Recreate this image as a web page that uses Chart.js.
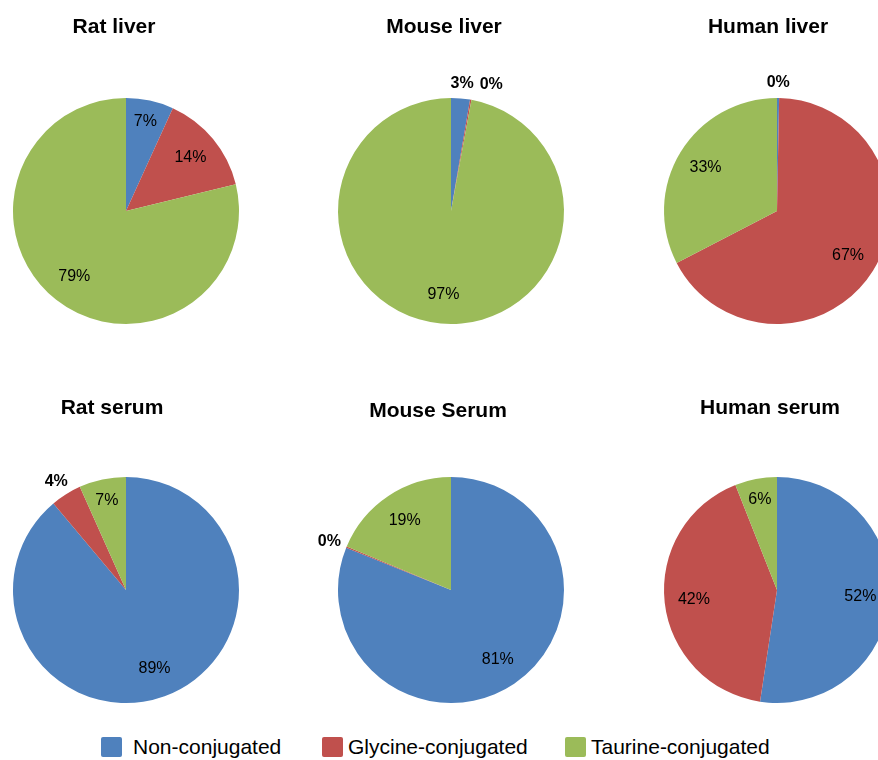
<!DOCTYPE html>
<html>
<head>
<meta charset="utf-8">
<script src="https://cdn.jsdelivr.net/npm/chart.js@4.4.1/dist/chart.umd.min.js"></script>
<style>
html,body{margin:0;padding:0;background:#ffffff;}
body{width:878px;height:760px;overflow:hidden;position:relative;}
canvas.pane{position:absolute;}
#legend{position:absolute;left:0;top:736px;width:878px;height:22px;font-family:"Liberation Sans",Arial,sans-serif;font-size:21px;color:#000;}
.li{position:absolute;top:0;height:22px;line-height:22px;white-space:nowrap;}
.sw{position:absolute;top:1px;width:21px;height:20px;border-radius:2px;}
</style>
</head>
<body>
<div id="legend"></div>
<script>
// ---- data ----
const categories = ['Non-conjugated', 'Glycine-conjugated', 'Taurine-conjugated'];
const panelTitles = ['Rat liver', 'Mouse liver', 'Human liver', 'Rat serum', 'Mouse Serum', 'Human serum'];
const ratLiver   = [6.8, 14.4, 78.8];
const mouseLiver = [2.7, 0.2, 97.1];
const humanLiver = [0.3, 67.1, 32.6];
const ratSerum   = [88.9, 4.4, 6.7];
const mouseSerum = [81.1, 0.2, 18.7];
const humanSerum = [52.4, 41.6, 6.0];
const seriesColors = ['#4F81BD', '#C0504D', '#9BBB59'];

// ---- layout ----
const panelData = [ratLiver, mouseLiver, humanLiver, ratSerum, mouseSerum, humanSerum];
const colCenters = [126, 451, 777];
const rowTops = [0, 379];
const titlePos = [[114, 27], [444, 27], [768, 27], [112, 408], [438, 411], [770, 408]];
const legendBoxX = [101, 322, 565];
const legendTextX = [133, 348, 591];
const PANE_W = 300, PANE_H = 350;
const FONT = '"Liberation Sans", Arial, sans-serif';

const panelTitlePlugin = {
  id: 'panelTitle',
  afterDraw(chart, args, opts) {
    const ctx = chart.ctx;
    ctx.save();
    ctx.font = 'bold 21px ' + FONT;
    ctx.fillStyle = '#000';
    ctx.textAlign = 'center';
    ctx.textBaseline = 'middle';
    ctx.fillText(opts.text, opts.x, opts.y);
    ctx.restore();
  }
};

const sliceLabelPlugin = {
  id: 'sliceLabels',
  afterDatasetsDraw(chart) {
    const ctx = chart.ctx;
    const meta = chart.getDatasetMeta(0);
    const data = chart.data.datasets[0].data;
    const total = data.reduce((a, b) => a + b, 0);
    let prev = null;
    ctx.save();
    ctx.fillStyle = '#000';
    ctx.textAlign = 'center';
    ctx.textBaseline = 'middle';
    meta.data.forEach((arc, i) => {
      const p = arc.getProps(['x', 'y', 'startAngle', 'endAngle', 'outerRadius'], true);
      const share = data[i] / total * 100;
      const pct = Math.round(share);
      const txt = pct + '%';
      const mid = (p.startAngle + p.endAngle) / 2;
      const c = Math.cos(mid), s = Math.sin(mid);
      if (share >= 5) {
        ctx.font = '16px ' + FONT;
        const f = share < 10 ? 0.81 : 0.74;
        ctx.fillText(txt, p.x + c * p.outerRadius * f, p.y + s * p.outerRadius * f);
      } else {
        ctx.font = 'bold 16px ' + FONT;
        const w = ctx.measureText(txt).width, h = 16;
        const r = p.outerRadius + 7;
        let lx = p.x + c * r + c * w / 2;
        let ly = p.y + s * r + s * h / 2;
        if (prev && Math.abs(ly - prev.y) < h && Math.abs(lx - prev.x) < (w + prev.w) / 2 + 6) {
          if (c >= 0) lx = prev.x + prev.w / 2 + 6 + w / 2;
          else lx = prev.x - prev.w / 2 - 6 - w / 2;
        }
        ctx.fillText(txt, lx, ly);
        prev = {x: lx, y: ly, w: w};
      }
    });
    ctx.restore();
  }
};

panelData.forEach((vals, k) => {
  const col = k % 3, row = Math.floor(k / 3);
  const left = colCenters[col] - PANE_W / 2;
  const top = rowTops[row];
  const cv = document.createElement('canvas');
  cv.className = 'pane';
  cv.width = PANE_W; cv.height = PANE_H;
  cv.style.left = left + 'px';
  cv.style.top = top + 'px';
  cv.style.width = PANE_W + 'px';
  cv.style.height = PANE_H + 'px';
  document.body.appendChild(cv);
  new Chart(cv, {
    type: 'pie',
    data: {
      labels: categories,
      datasets: [{data: vals, backgroundColor: seriesColors, borderWidth: 0}]
    },
    options: {
      responsive: false,
      animation: false,
      events: [],
      layout: {padding: {left: 37, right: 37, top: 98, bottom: 26}},
      plugins: {
        legend: {display: false},
        tooltip: {enabled: false},
        title: {display: false},
        panelTitle: {text: panelTitles[k], x: titlePos[k][0] - left, y: titlePos[k][1] - top}
      }
    },
    plugins: [sliceLabelPlugin, panelTitlePlugin]
  });
});

// legend
const lg = document.getElementById('legend');
categories.forEach((name, i) => {
  const sw = document.createElement('div');
  sw.className = 'sw';
  sw.style.left = legendBoxX[i] + 'px';
  sw.style.background = seriesColors[i];
  lg.appendChild(sw);
  const t = document.createElement('div');
  t.className = 'li';
  t.style.left = legendTextX[i] + 'px';
  t.textContent = name;
  lg.appendChild(t);
});
</script>
</body>
</html>
